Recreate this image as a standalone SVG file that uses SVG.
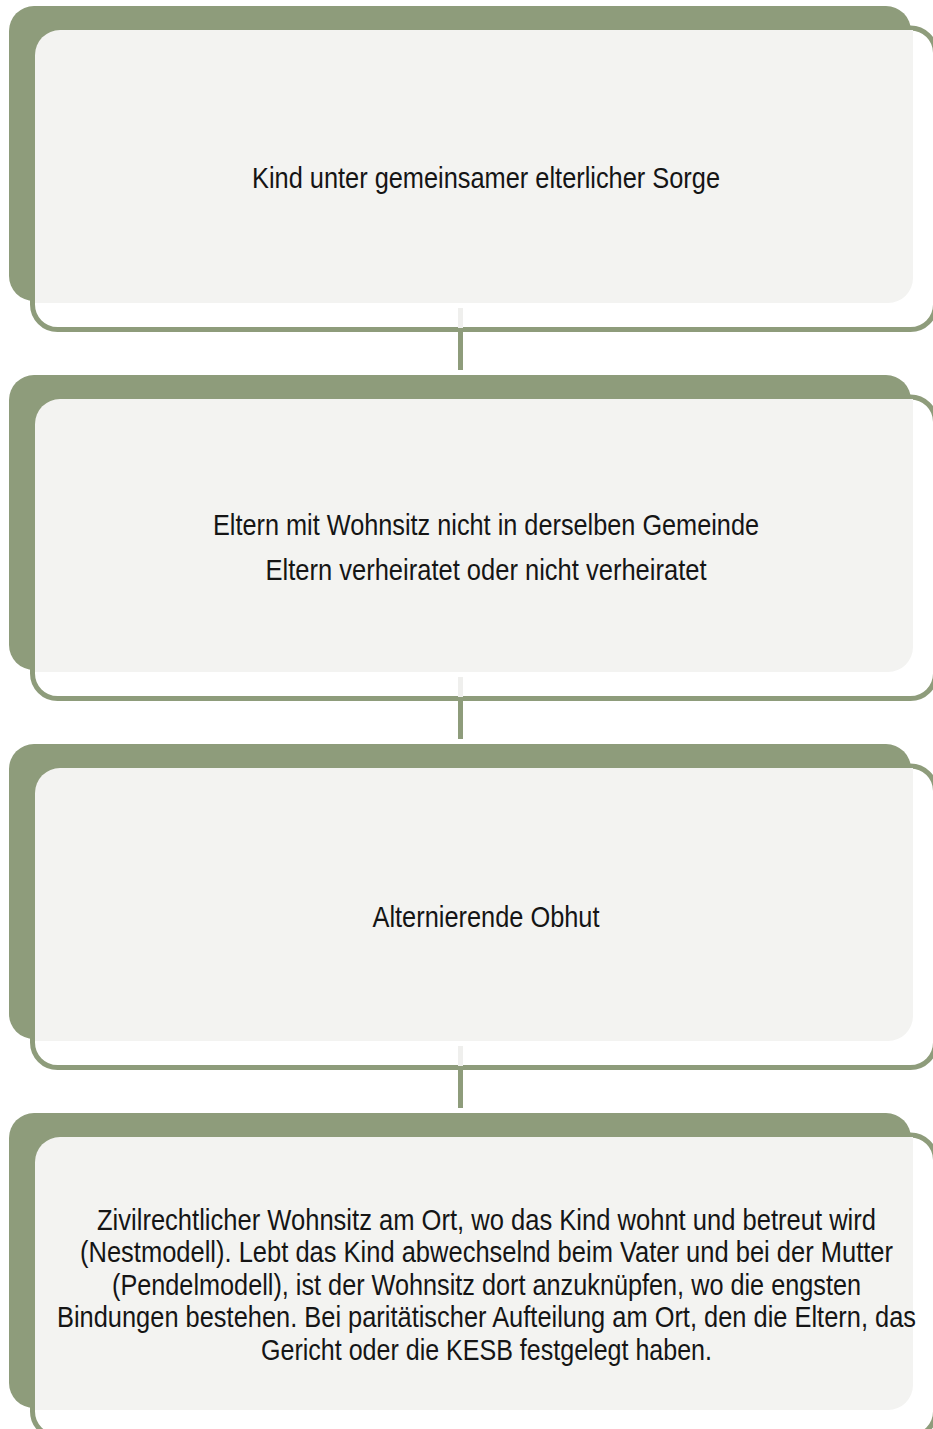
<svg xmlns="http://www.w3.org/2000/svg" width="933" height="1429" viewBox="0 0 933 1429">
<style>
.outline{fill:none;stroke:#8e9c7b;stroke-width:5}
.band{fill:#8e9c7b}
.card{fill:#f3f3f1}
.lbl{font-family:"Liberation Sans","Arial",sans-serif;font-size:30px;fill:#151515;text-anchor:middle}
.lbl4{font-family:"Liberation Sans","Arial",sans-serif;font-size:29px;fill:#151515;text-anchor:middle}
.conn-light{fill:#efefed}
.conn{fill:#8e9c7b}
</style>
<defs>
<g id="nodeShape">
<rect class="outline" x="32.5" y="28" width="903" height="301.5" rx="25" ry="25"/>
<rect class="band" x="9" y="6" width="902" height="295" rx="25" ry="25"/>
<path class="card" d="M35,55 A25,25 0 0 1 60,30 L913,30 L913,278 A25,25 0 0 1 888,303 L35,303 Z"/>
</g>
</defs>
<g id="node1">
<use href="#nodeShape"/>
<text class="lbl" x="486" y="188" textLength="468" lengthAdjust="spacingAndGlyphs">Kind unter gemeinsamer elterlicher Sorge</text>
</g>
<g id="node2">
<use href="#nodeShape" y="369"/>
<text class="lbl" x="486" y="535" textLength="546" lengthAdjust="spacingAndGlyphs">Eltern mit Wohnsitz nicht in derselben Gemeinde</text>
<text class="lbl" x="486" y="580" textLength="441" lengthAdjust="spacingAndGlyphs">Eltern verheiratet oder nicht verheiratet</text>
</g>
<g id="node3">
<use href="#nodeShape" y="738"/>
<text class="lbl" x="486" y="927" textLength="227" lengthAdjust="spacingAndGlyphs">Alternierende Obhut</text>
</g>
<g id="node4">
<use href="#nodeShape" y="1107"/>
<g transform="scale(0.85,1)">
<text class="lbl4" x="572.35" y="1230" textLength="916.5" lengthAdjust="spacingAndGlyphs">Zivilrechtlicher Wohnsitz am Ort, wo das Kind wohnt und betreut wird</text>
<text class="lbl4" x="572.35" y="1262.5" textLength="956.5" lengthAdjust="spacingAndGlyphs">(Nestmodell). Lebt das Kind abwechselnd beim Vater und bei der Mutter</text>
<text class="lbl4" x="572.35" y="1295" textLength="881.2" lengthAdjust="spacingAndGlyphs">(Pendelmodell), ist der Wohnsitz dort anzuknüpfen, wo die engsten</text>
<text class="lbl4" x="572.35" y="1327.5" textLength="1010.6" lengthAdjust="spacingAndGlyphs">Bindungen bestehen. Bei paritätischer Aufteilung am Ort, den die Eltern, das</text>
<text class="lbl4" x="572.35" y="1360" textLength="530.6" lengthAdjust="spacingAndGlyphs">Gericht oder die KESB festgelegt haben.</text>
</g>
</g>
<g id="connectors">
<rect class="conn-light" x="458" y="308" width="5" height="20"/>
<rect class="conn" x="458" y="332" width="5" height="38"/>
<rect class="conn-light" x="458" y="677" width="5" height="20"/>
<rect class="conn" x="458" y="701" width="5" height="38"/>
<rect class="conn-light" x="458" y="1046" width="5" height="20"/>
<rect class="conn" x="458" y="1070" width="5" height="38"/>
</g>
</svg>
